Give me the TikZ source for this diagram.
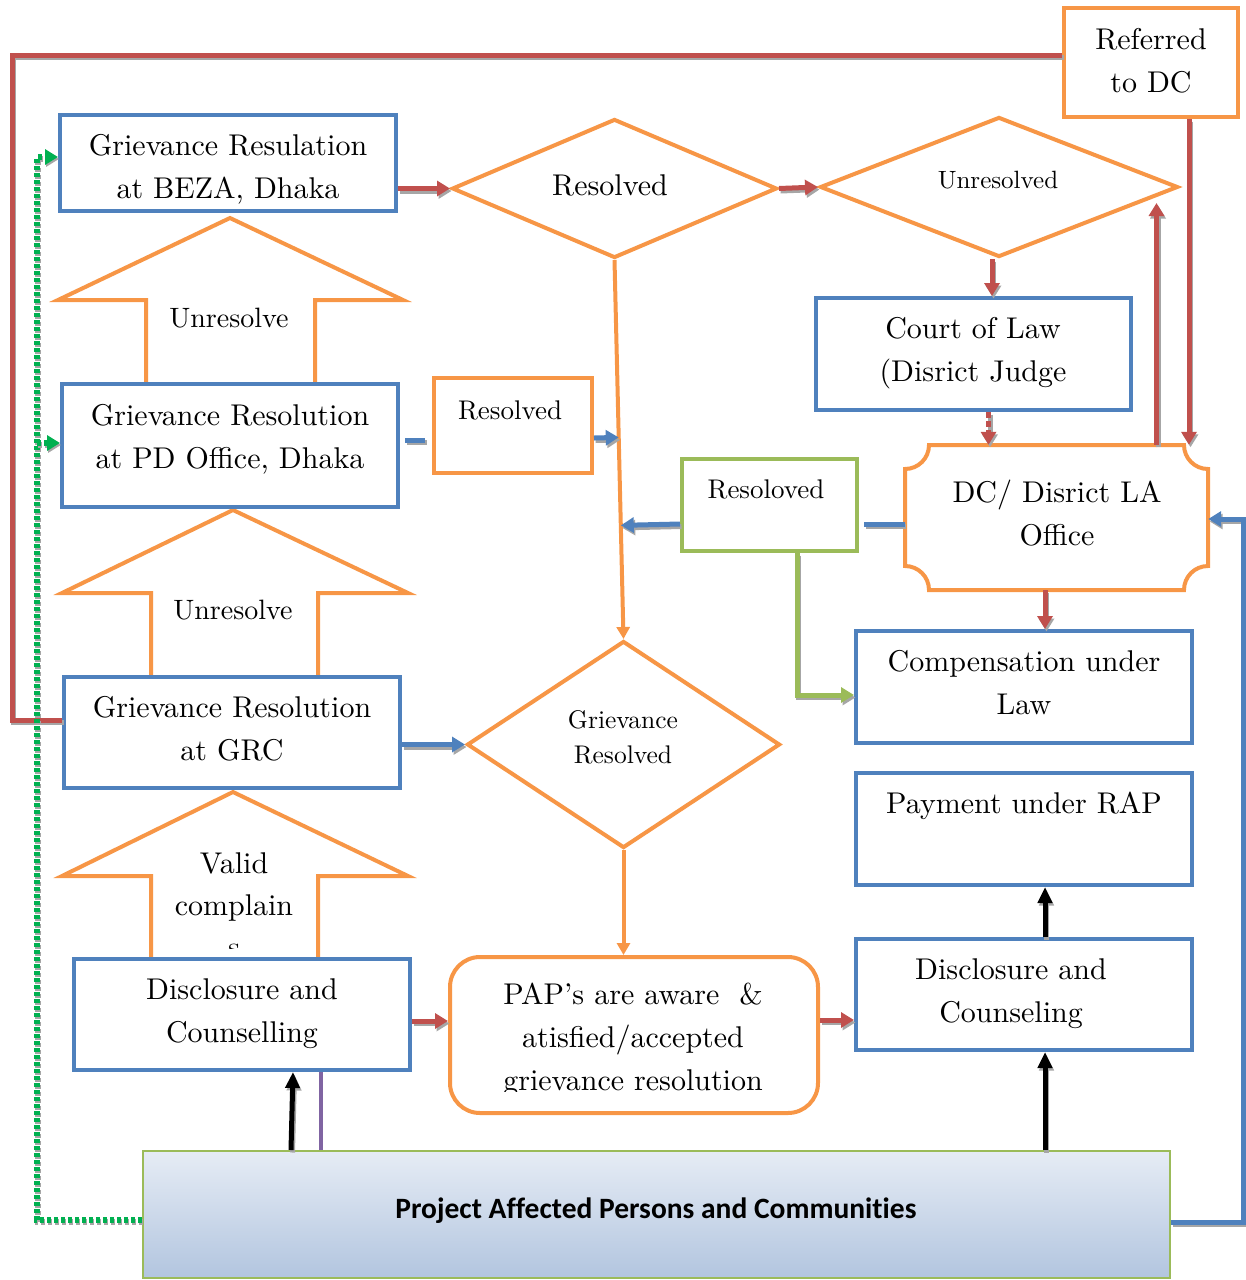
\documentclass[tikz,border=0pt]{standalone}
\usepackage{fontspec}
\setmainfont{lmroman10-regular.otf}
\newfontfamily\carlito{Carlito}[Ligatures=NoCommon]
\usetikzlibrary{arrows.meta,shapes.geometric,calc}
\definecolor{cblue}{HTML}{4F81BD}
\definecolor{corange}{HTML}{F79646}
\definecolor{cred}{HTML}{C0504D}
\definecolor{cgreen}{HTML}{9BBB59}
\definecolor{cdgreen}{HTML}{00B050}
\definecolor{cpurple}{HTML}{8064A2}
\definecolor{ctop}{HTML}{E6ECF5}
\definecolor{cbot}{HTML}{B2C5DF}
\begin{document}
\begin{tikzpicture}[x=1pt,y=-1pt,
  bluebox/.style={draw=cblue,line width=4pt,fill=white,inner sep=0pt},
  orbox/.style={draw=corange,line width=4pt,fill=white,inner sep=0pt},
  diam/.style={diamond,draw=corange,line width=4pt,fill=white,inner sep=0pt},
  txt/.style={inner sep=0pt,align=center,font=\fontsize{30}{43}\selectfont},
  blk/.style={draw=corange,line width=4pt,line join=miter,fill=white},
  shad/.style={preaction={draw=black!35,line width=5pt,transform canvas={shift={(1.5pt,-2.5pt)}}}},
  con/.style={line width=5pt,line cap=butt},
  tipR/.style={-{Triangle[length=13pt,width=15pt]}},
  rarr/.style={con,draw=cred,shad,tipR},
  rline/.style={con,draw=cred,shad},
  barr/.style={con,draw=cblue,shad,tipR},
  bline/.style={con,draw=cblue,shad},
  garr/.style={con,draw=cgreen,shad,tipR},
  oarr/.style={line width=4pt,draw=corange,-{Triangle[length=12pt,width=13pt]}},
  karr/.style={con,draw=black,shad,-{Triangle[length=16pt,width=14pt]}},
  pline/.style={line width=4pt,draw=cpurple},
  gdot/.style={draw=cdgreen,line width=5.5pt,dash pattern=on 4pt off 3pt,
    preaction={draw=black!35,line width=5.5pt,dash pattern=on 4pt off 3pt,transform canvas={shift={(1pt,-2pt)}}},
    -{Triangle[length=13pt,width=15pt]}}
]
\useasboundingbox (0,0) rectangle (1246,1280);

% ---------- block arrows ----------
\draw[blk] (146,384) -- (146,300) -- (58,300) -- (230,218) -- (403,300) -- (315,300) -- (315,384);
\draw[blk] (151,677) -- (151,593) -- (62,593) -- (233,510) -- (408,593) -- (318,593) -- (318,677);
\draw[blk] (151,959) -- (151,876) -- (62,876) -- (233,792) -- (408,876) -- (318,876) -- (318,959);
\node[txt,font=\fontsize{28}{40}\selectfont] (u1) at (229,319) {\strut Unresolve\strut};
\node[txt,font=\fontsize{28}{40}\selectfont] (u2) at (233,611) {\strut Unresolve\strut};
\begin{scope}
  \clip (152,800) rectangle (316,948);
  \node[txt,font=\fontsize{30}{42}\selectfont] (valid) at (234,907) {\strut Valid\\complain\\s\strut};
\end{scope}

% ---------- boxes ----------
\node[bluebox,minimum width=336,minimum height=96] (beza) at (228,163) {};
\node[txt] (bezat) at (228,168) {\strut Grievance Resulation\\at BEZA, Dhaka\strut};

\node[bluebox,minimum width=336,minimum height=123] (pd) at (230,445.5) {};
\node[txt] (pdt) at (230,438) {\strut Grievance Resolution\\at PD Office, Dhaka\strut};

\node[bluebox,minimum width=336,minimum height=111] (grc) at (232,732.5) {};
\node[txt] (grct) at (232,730) {\strut Grievance Resolution\\at GRC\strut};

\node[bluebox,minimum width=336,minimum height=111] (dcl) at (242,1014.5) {};
\node[txt] (dclt) at (242,1012) {\strut Disclosure and\\Counselling\strut};

\node[orbox,minimum width=158,minimum height=95] (resbox) at (513,425.5) {};
\node[txt,font=\fontsize{27}{39}\selectfont] (resboxt) at (510,412) {\strut Resolved\strut};

\node[diam,minimum width=325,minimum height=139] (res1) at (614.5,188.5) {};
\node[txt] (res1t) at (610,186.5) {\strut Resolved\strut};

\node[diam,minimum width=358,minimum height=140] (unres) at (999,187) {};
\node[txt,font=\fontsize{25}{36}\selectfont] (unrest) at (998,181) {\strut Unresolved\strut};

\node[orbox,minimum width=174,minimum height=109] (refdc) at (1151,62.5) {};
\node[txt] (refdct) at (1151,62.5) {\strut Referred\\to DC\strut};

\node[bluebox,minimum width=315,minimum height=112] (court) at (973.5,354) {};
\node[txt] (courtt) at (973,351.5) {\strut Court of Law\\(Disrict Judge\strut};

\node[inner sep=0pt,minimum width=303,minimum height=145] (dcoff) at (1056.5,517.5) {};
\draw[draw=corange,line width=4pt,fill=white]
  (929,445) -- (1184,445) .. controls (1184,458.3) and (1194.7,469) .. (1208,469)
  -- (1208,566) .. controls (1194.7,566) and (1184,576.7) .. (1184,590)
  -- (929,590) .. controls (929,576.7) and (918.3,566) .. (905,566)
  -- (905,469) .. controls (918.3,469) and (929,458.3) .. (929,445) -- cycle;
\node[txt] (dcofft) at (1057,515.5) {\strut DC/ Disrict LA\\Office\strut};

\node[draw=cgreen,line width=4pt,fill=white,inner sep=0pt,minimum width=175,minimum height=92] (resol) at (769.5,505) {};
\node[txt,font=\fontsize{27}{39}\selectfont] (resolt) at (766,491) {\strut Resoloved\strut};

\node[bluebox,minimum width=336,minimum height=112] (comp) at (1024,687) {};
\node[txt] (compt) at (1024,684.5) {\strut Compensation under\\Law\strut};

\node[bluebox,minimum width=336,minimum height=112] (pay) at (1024,829) {};
\node[txt] (payt) at (1024,804.5) {\strut Payment under RAP\strut};

\node[bluebox,minimum width=336,minimum height=111] (dcr) at (1024,994.5) {};
\node[txt] (dcrt) at (1011,992) {\strut Disclosure and\\Counseling\strut};

\node[diam,minimum width=313,minimum height=207] (grres) at (623.5,744.5) {};
\node[txt,font=\fontsize{25.5}{35}\selectfont] (grrest) at (623,738.5) {\strut Grievance\\Resolved\strut};

\node[orbox,rounded corners=30pt,minimum width=368,minimum height=156] (pap) at (634,1035) {};
\begin{scope}
  \clip (455,960) rectangle (815,1091);
  \node[txt] (papt) at (633,1038.7) {\strut PAP’s are aware\ \ \&\\atisfied/accepted\\grievance resolution\strut};
\end{scope}

\node[draw=cgreen,line width=2pt,top color=ctop,bottom color=cbot,inner sep=0pt,minimum width=1027,minimum height=127] (pac) at (656.5,1214.5) {};
\node[inner sep=0pt,font=\carlito\bfseries\fontsize{29.5}{35}\selectfont] (pact) at (656,1211) {Project Affected Persons and Communities};

% ---------- connectors ----------
\draw[rarr] (beza.east |- res1.west) -- (res1.west);
\draw[rarr] (res1.east) -- (unres.west);
\coordinate (us) at ([xshift=-7]unres.south);
\draw[rarr] (us) -- (us |- court.north);
\draw[oarr] (res1.south) -- (grres.north);
\coordinate (cs) at ([xshift=15]court.south);
\draw[rarr,dash pattern=on 6pt off 3pt] (cs) -- (cs |- dcoff.north);
\coordinate (rs) at ([xshift=38]refdc.south);
\draw[rarr] (rs) -- (rs |- dcoff.north);
\coordinate (dn) at ([xshift=100]dcoff.north);
\coordinate (uhit) at (dn |- 0,203);
\draw[rarr] (dn) -- (uhit);

\coordinate (rw) at ([yshift=7.5]refdc.west);
\coordinate (gw) at ([yshift=12.5]grc.west);
\draw[rline] (rw) -| (12,720) -- (gw);

\coordinate (pw) at ([yshift=-5.5]pac.west);
\coordinate (bw) at ([yshift=6]beza.west);
\coordinate (pdw) at ([yshift=2.5]pd.west);
\coordinate (gbr) at (37,443);
\draw[gdot] (pw) -| (37,157) -- (bw);
\draw[gdot] (gbr) -- (pdw);

\coordinate (pdst) at ([xshift=5,yshift=5.5]pd.east);
\draw[bline] (pdst) -- ++(20,0);
\coordinate (rbe) at ([yshift=-12.5]resbox.east);
\coordinate (rbhit) at ($(res1.south)!(rbe)!(grres.north)$);
\draw[barr] (rbe) -- (rbhit);
\coordinate (rlw) at ([yshift=-19]resol.west);
\coordinate (rlhit) at ($(res1.south)!(rlw)!(grres.north)$);
\draw[barr] (rlw) -- (rlhit);
\coordinate (dw) at ([yshift=-6.5]dcoff.west);
\draw[bline] (dw) -- ([xshift=5]dw -| resol.east);
\coordinate (pe) at ([yshift=-7.5]pac.east);
\coordinate (de) at ([yshift=-1.5]dcoff.east);
\draw[barr] (pe) -| (1243,519) -- (de);
\draw[barr] (grc.east |- grres.west) -- (grres.west);
\draw[oarr] (grres.south) -- (grres.south |- pap.north);

\coordinate (rls) at ([xshift=27.5]resol.south);
\coordinate (cw) at ([yshift=-8]comp.west);
\draw[garr] (rls) |- (cw);

\coordinate (ds) at ([xshift=-11.5]dcoff.south);
\draw[rarr] (ds) -- (ds |- comp.north);

\coordinate (dle) at ([yshift=-6.5]dcl.east);
\draw[rarr] (dle) -- (dle -| pap.west);
\coordinate (pape) at ([yshift=15]pap.east);
\draw[rarr] (pape) -- (pape -| dcr.west);

\coordinate (dcrn) at ([xshift=21]dcr.north);
\draw[karr] (dcrn) -- (dcrn |- pay.south);
\coordinate (pacn) at (dcrn |- pac.north);
\draw[karr] (pacn) -- (dcrn |- dcr.south);
\coordinate (pacl) at ([xshift=-365.5]pac.north);
\draw[karr] (pacl) -- ([xshift=51]dcl.south);
\coordinate (pacp) at ([xshift=-335.5]pac.north);
\draw[pline] (pacp) -- (pacp |- dcl.south);
\end{tikzpicture}
\end{document}
